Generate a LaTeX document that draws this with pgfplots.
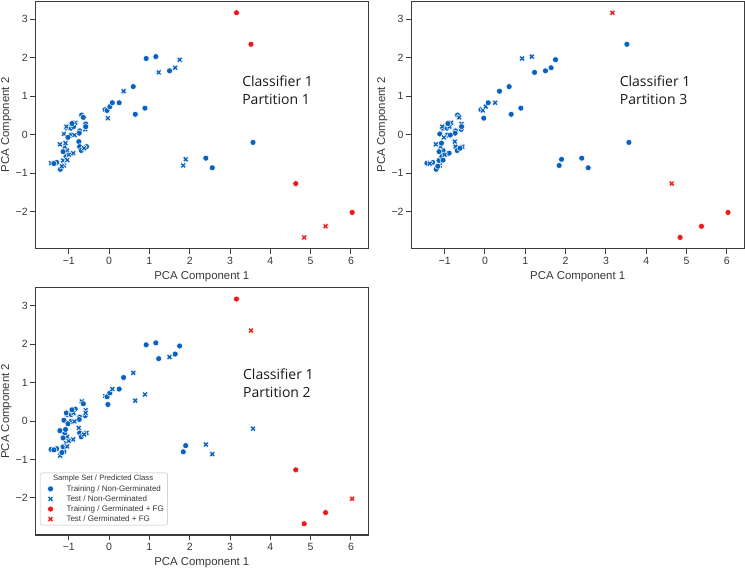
\documentclass[border=0pt]{standalone}
\usepackage{fontspec}
\setmainfont{Liberation Sans}
\newfontfamily\annfont{Open Sans}
\usepackage{pgfplots}
\usepackage{pgfplotstable}
\pgfplotsset{compat=1.18}
\definecolor{cblue}{RGB}{8,98,196}
\definecolor{cred}{RGB}{238,24,24}
\definecolor{framegray}{RGB}{60,60,60}
\definecolor{textgray}{RGB}{55,55,55}

\pgfdeclareplotmark{fatx}{%
  \pgfpathmoveto{\pgfqpoint{0pt}{0.55\pgfplotmarksize}}%
  \pgfpathlineto{\pgfqpoint{0.525\pgfplotmarksize}{1.075\pgfplotmarksize}}%
  \pgfpathlineto{\pgfqpoint{1.075\pgfplotmarksize}{0.525\pgfplotmarksize}}%
  \pgfpathlineto{\pgfqpoint{0.55\pgfplotmarksize}{0pt}}%
  \pgfpathlineto{\pgfqpoint{1.075\pgfplotmarksize}{-0.525\pgfplotmarksize}}%
  \pgfpathlineto{\pgfqpoint{0.525\pgfplotmarksize}{-1.075\pgfplotmarksize}}%
  \pgfpathlineto{\pgfqpoint{0pt}{-0.55\pgfplotmarksize}}%
  \pgfpathlineto{\pgfqpoint{-0.525\pgfplotmarksize}{-1.075\pgfplotmarksize}}%
  \pgfpathlineto{\pgfqpoint{-1.075\pgfplotmarksize}{-0.525\pgfplotmarksize}}%
  \pgfpathlineto{\pgfqpoint{-0.55\pgfplotmarksize}{0pt}}%
  \pgfpathlineto{\pgfqpoint{-1.075\pgfplotmarksize}{0.525\pgfplotmarksize}}%
  \pgfpathlineto{\pgfqpoint{-0.525\pgfplotmarksize}{1.075\pgfplotmarksize}}%
  \pgfpathclose
  \pgfusepathqfillstroke
}

% x y class in panel (P1), (P3 right), (P2 bottom)
% a = Training/Non-Germ, b = Test/Non-Germ, c = Training/Germ+FG, d = Test/Germ+FG
\pgfplotstableread{
x y p1 p2 p3
-1.44 -0.74 b a a
-1.30 -0.72 a a a
-1.21 -0.90 a a b
-1.12 -0.80 b b a
-1.14 -0.67 b a a
-1.07 -0.57 a a b
-1.04 -0.66 b a b
-0.96 -0.50 b b a
-0.89 -0.48 b a b
-1.04 -0.41 b a b
-1.10 -0.31 b b a
-1.22 -0.25 b b a
-1.08 -0.22 b a a
-0.75 -0.18 a b b
-0.73 -0.31 a b a
-0.69 -0.41 a a a
-0.56 -0.31 a b b
-0.62 -0.35 b a b
-0.73 0.10 a a a
-0.74 0.04 a a a
-0.58 0.28 a b b
-0.59 0.14 b a a
-0.68 0.51 a a b
-0.64 0.45 a b a
-1.12 0.02 b a a
-1.04 0.17 b a a
-1.06 0.21 b b a
-0.94 0.17 a a a
-0.93 0.28 b a b
-0.84 0.31 b b a
-0.88 0.21 a b b
-0.94 -0.01 a a a
-1.02 -0.07 a b a
-0.86 -0.01 b a b
-1.14 -0.44 a a a
-1.00 -0.52 b b b
-1.37 -0.75 a b a
-1.17 -0.82 b a a
-0.92 0.29 a a a
-0.58 0.21 a a b
-0.10 0.65 a a b
-0.05 0.63 a b a
0.02 0.73 a b a
0.08 0.83 a a b
0.25 0.83 a b a
-0.03 0.43 b a a
0.36 1.13 b a a
0.60 1.25 a a b
0.65 0.53 a a b
0.89 0.69 a a b
0.92 1.98 a b a
1.16 2.03 a b a
1.23 1.62 b a a
1.50 1.66 a a b
1.64 1.74 b a a
1.75 1.95 b a a
1.84 -0.80 b a a
1.90 -0.64 b a a
2.40 -0.61 a a b
2.56 -0.86 a a b
3.57 -0.20 a a b
3.16 3.17 c d c
3.52 2.35 c a d
4.63 -1.27 c d c
6.03 -2.02 c c d
4.84 -2.67 d c c
5.37 -2.38 d c c
}\pcadata

\pgfplotsset{
  panel/.style={
    scale only axis, width=333pt, height=247.4pt, anchor=south west,
    xmin=-1.83, xmax=6.43, ymin=-2.96, ymax=3.47,
    xtick={-1,0,1,2,3,4,5,6}, xticklabels={−1,0,1,2,3,4,5,6},
    ytick={-2,-1,0,1,2,3}, yticklabels={−2,−1,0,1,2,3},
    tick align=outside, tick pos=left,
    major tick length=5.5pt,
    tick style={line width=1pt, framegray},
    axis line style={line width=1.2pt, framegray},
    tick label style={font=\fontsize{10.5}{12}\selectfont, text=textgray, inner sep=0pt},
    xticklabel shift=3pt, yticklabel shift=2pt,
    label style={font=\fontsize{11.4}{13}\selectfont, text=textgray},
    xlabel={PCA Component 1}, ylabel={PCA Component 2},
    x label style={at={(axis description cs:0.5,-0.113)}, anchor=center},
    y label style={at={(axis description cs:-0.087,0.5)}, anchor=center},
    scatter/classes={
      a={mark=*, mark size=3pt, draw=white, fill=cblue, line width=0.5pt},
      b={mark=fatx, mark size=2.7pt, draw=white, fill=cblue, line width=0.4pt},
      c={mark=*, mark size=3pt, draw=white, fill=cred, line width=0.5pt},
      d={mark=fatx, mark size=2.7pt, draw=white, fill=cred, line width=0.4pt}},
  },
}
\tikzset{
  ann/.style={anchor=west, inner sep=0pt, align=left, text=black!90,
    font=\annfont\fontsize{14}{18}\selectfont},
}

\begin{document}
\begin{tikzpicture}
\useasboundingbox (0,0) rectangle (745pt,568pt);
% Panel 1 (top left)
\begin{axis}[panel, at={(35.3pt,319.4pt)}]
\addplot[scatter, only marks, scatter src=explicit symbolic, forget plot]
  table[x=x, y=y, meta=p1]{\pcadata};
\node[ann] at (axis cs:3.3,1.165) {Classifier 1\\Partition 1};
\end{axis}
% Panel 2 (top right)
\begin{axis}[panel, at={(411.2pt,319.4pt)}]
\addplot[scatter, only marks, scatter src=explicit symbolic, forget plot]
  table[x=x, y=y, meta=p2]{\pcadata};
\node[ann] at (axis cs:3.34,1.165) {Classifier 1\\Partition 3};
\end{axis}
% Panel 3 (bottom left)
\begin{axis}[panel, at={(35.3pt,33.1pt)},
  legend style={at={(rel axis cs:0,0)}, anchor=south west, xshift=4.7pt, yshift=9.5pt,
    font=\fontsize{8}{9}\selectfont, text=textgray, draw=black!25,
    rounded corners=2pt, row sep=1.6pt, inner sep=1.8pt,
    nodes={inner ysep=0.6pt},
    /tikz/every odd column/.append style={column sep=11pt}},
  legend cell align=left]
\addlegendimage{empty legend}
\addlegendentry{\hspace*{-13.5pt}\fontsize{7.7}{9}\selectfont Sample Set / Predicted Class}
\addlegendimage{only marks, mark=*, mark size=3pt, draw=white, fill=cblue, line width=0.5pt}
\addlegendentry{Training / Non-Germinated}
\addlegendimage{only marks, mark=fatx, mark size=2.7pt, draw=white, fill=cblue, line width=0.4pt}
\addlegendentry{Test / Non-Germinated}
\addlegendimage{only marks, mark=*, mark size=3pt, draw=white, fill=cred, line width=0.5pt}
\addlegendentry{Training / Germinated + FG}
\addlegendimage{only marks, mark=fatx, mark size=2.7pt, draw=white, fill=cred, line width=0.4pt}
\addlegendentry{Test / Germinated + FG}
\addplot[scatter, only marks, scatter src=explicit symbolic, forget plot]
  table[x=x, y=y, meta=p3]{\pcadata};
\node[ann] at (axis cs:3.32,0.98) {Classifier 1\\Partition 2};
\end{axis}
\end{tikzpicture}
\end{document}
